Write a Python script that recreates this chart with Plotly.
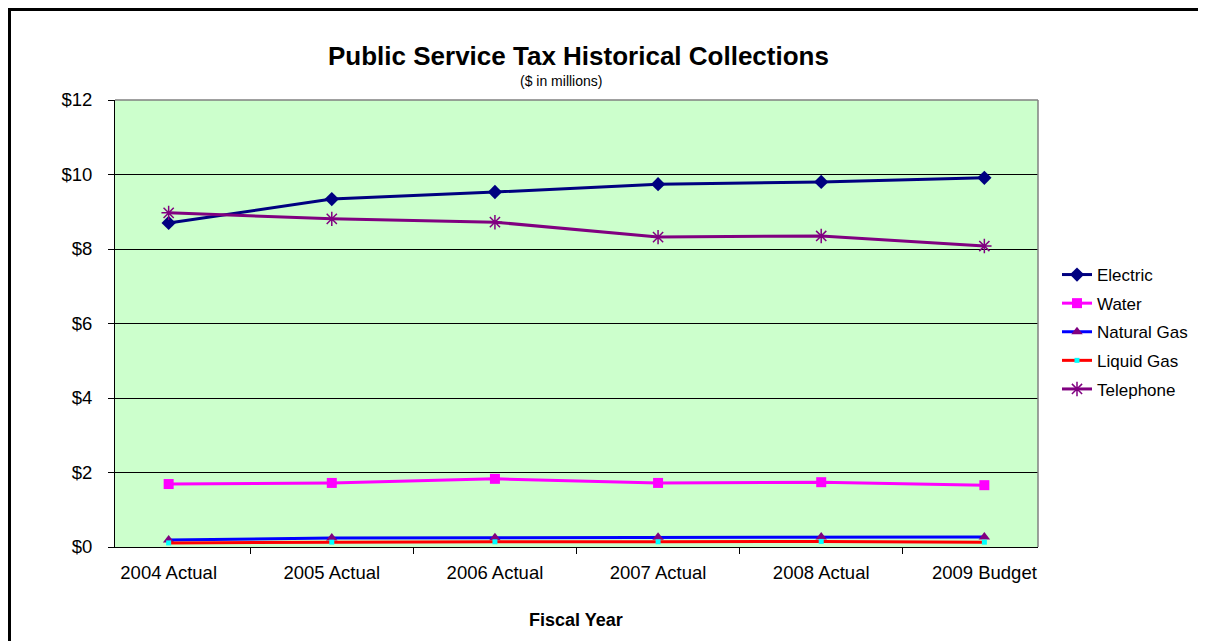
import plotly.graph_objects as go

categories = ["2004 Actual", "2005 Actual", "2006 Actual", "2007 Actual", "2008 Actual", "2009 Budget"]
electric = [8.70, 9.34, 9.53, 9.74, 9.80, 9.91]
water = [1.69, 1.72, 1.83, 1.72, 1.74, 1.66]
natural_gas = [0.19, 0.24, 0.25, 0.26, 0.27, 0.27]
liquid_gas = [0.11, 0.13, 0.14, 0.14, 0.15, 0.13]
telephone = [8.97, 8.81, 8.72, 8.32, 8.35, 8.08]
y_ticks = [0, 2, 4, 6, 8, 10, 12]

W, H = 1206, 641
OFF = 7  # page offset of the figure in the browser
PL, PR, PT, PB = 114, 1037, 99, 546  # plot area in screen pixels
L, T = PL - OFF, PT - OFF
pw, ph = PR - PL, PB - PT
R = W - L - pw
B = H - T - ph

def px(x):
    return (x - PL) / pw

def py(y):
    return (PB - y) / ph

fig = go.Figure()
series = [
    ("Electric", electric, "#000080", dict(symbol="diamond", size=11, color="#000080")),
    ("Water", water, "#FF00FF", dict(symbol="square", size=10, color="#FF00FF")),
    ("Natural Gas", natural_gas, "#0000FF", dict(symbol="triangle-up", size=10, color="#800080")),
    ("Liquid Gas", liquid_gas, "#FF0000", dict(symbol="square", size=5, color="#00FFFF")),
    ("Telephone", telephone, "#800080", dict(symbol="asterisk-open", size=12, color="#800080",
                                              line=dict(color="#800080", width=1.5))),
]
for name, vals, col, mk in series:
    fig.add_trace(go.Scatter(x=categories, y=vals, name=name, mode="lines+markers",
                             line=dict(color=col, width=3), marker=mk, legendgroup=name))

fig.update_layout(
    width=W, height=H,
    margin=dict(l=L, r=R, t=T, b=B),
    paper_bgcolor="white",
    plot_bgcolor="#CCFFCC",
    font=dict(family="Arial, Liberation Sans, sans-serif", size=18, color="black"),
    showlegend=True,
    legend=dict(x=px(1056), y=py(256), xanchor="left", yanchor="top",
                font=dict(size=17), tracegroupgap=3.5, bgcolor="rgba(0,0,0,0)",
                itemwidth=30),
    xaxis=dict(type="category", showline=True, linecolor="black", linewidth=1,
               ticks="outside", tickson="boundaries", ticklen=6, tickcolor="black",
               showgrid=False, tickfont=dict(size=18.5), ticklabelstandoff=9),
    yaxis=dict(range=[0, 12], tickvals=y_ticks, ticktext=["$" + str(v) for v in y_ticks],
               showline=True, linecolor="black", linewidth=1,
               ticks="outside", ticklen=6, tickcolor="black",
               showgrid=True, gridcolor="black", gridwidth=1, zeroline=False,
               tickfont=dict(size=18.5), ticklabelstandoff=12),
    annotations=[
        dict(text="<b>Public Service Tax Historical Collections</b>", x=px(577), y=py(55),
             xref="paper", yref="paper", showarrow=False, font=dict(size=26),
             xanchor="center", yanchor="middle"),
        dict(text="($ in millions)", x=px(560), y=py(80), xref="paper", yref="paper",
             showarrow=False, font=dict(size=14), xanchor="center", yanchor="middle"),
        dict(text="<b>Fiscal Year</b>", x=px(575), y=py(619), xref="paper", yref="paper",
             showarrow=False, font=dict(size=18), xanchor="center", yanchor="middle"),
    ],
    shapes=[
        dict(type="line", xref="paper", yref="paper", x0=0, x1=1, y0=1, y1=1,
             line=dict(color="#808080", width=1.5), layer="above"),
        dict(type="line", xref="paper", yref="paper", x0=1, x1=1, y0=0, y1=1,
             line=dict(color="#808080", width=1.5), layer="above"),
        dict(type="rect", xref="paper", yref="paper", x0=px(8.5), x1=px(1230),
             y0=py(670), y1=py(8.5), line=dict(color="black", width=3), layer="above"),
    ],
)

fig.write_html("out.html")
